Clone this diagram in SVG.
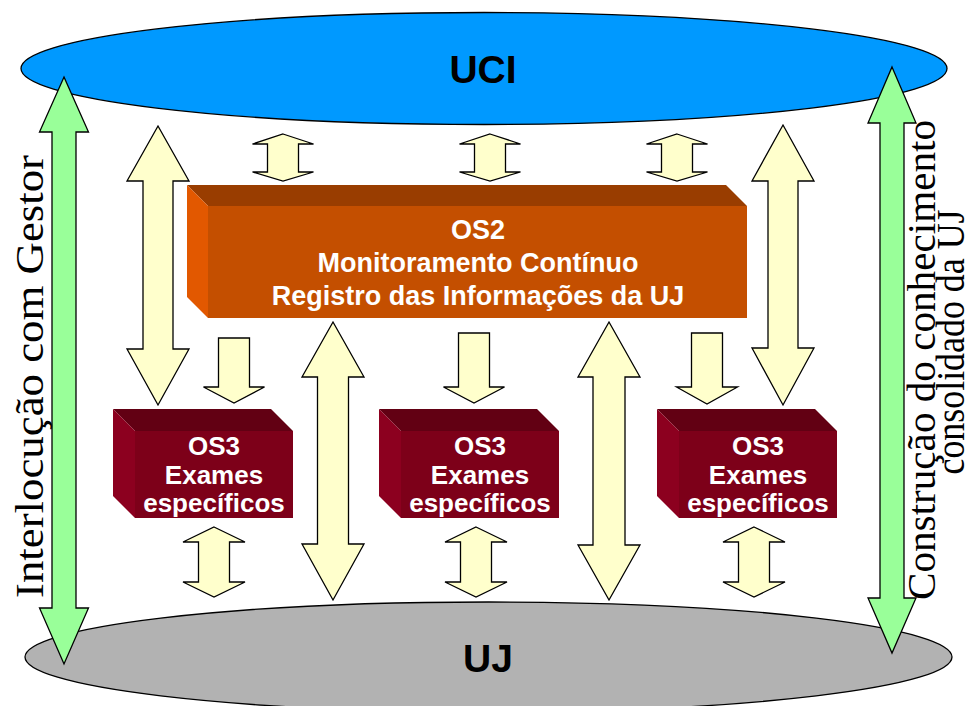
<svg xmlns="http://www.w3.org/2000/svg" width="980" height="706" viewBox="0 0 980 706">
<style>
.cream{fill:#FFFFCC;stroke:#000;stroke-width:1.3;stroke-linejoin:miter}
.green{fill:#99FF99;stroke:#000;stroke-width:1.3}
.lbl{font-family:"Liberation Sans",Arial,sans-serif;font-weight:bold;fill:#fff;text-anchor:middle}
.big{font-family:"Liberation Sans",Arial,sans-serif;font-weight:bold;fill:#000;text-anchor:middle;font-size:39px}
.side{font-family:"Liberation Serif","Times New Roman",serif;fill:#000;text-anchor:middle}
</style>
<rect width="980" height="706" fill="#fff"/>
<g id="uj">
<ellipse cx="488.5" cy="657" rx="463.5" ry="55" fill="#B2B2B2" stroke="#000" stroke-width="1.3"/>
<text class="big" x="488" y="672">UJ</text>
</g>
<g id="uci">
<ellipse cx="484" cy="68.5" rx="463" ry="56" fill="#0099FF" stroke="#000" stroke-width="1.3"/>
<text class="big" x="483" y="83">UCI</text>
</g>
<g id="connectors">
<polygon class="green" points="64,77 88.5,132 76,132 76,608 88.5,608 64,664 39.5,608 52,608 52,132 39.5,132"/>
<polygon class="green" points="892,67 916,123 904,123 904,598 916,598 892,653 868,598 880,598 880,123 868,123"/>
<polygon class="cream" points="158,126 189,181 173,181 173,349 189,349 158,405 127,349 143,349 143,181 127,181"/>
<polygon class="cream" points="783,125 814,181 798,181 798,348 814,348 783,405 752,348 768,348 768,181 752,181"/>
<polygon class="cream" points="283,134 313.5,144 298.5,144 298.5,172 313.5,172 283,181 252.5,172 267.5,172 267.5,144 252.5,144"/>
<polygon class="cream" points="490,134 520.5,144 505.5,144 505.5,172 520.5,172 490,181 459.5,172 474.5,172 474.5,144 459.5,144"/>
<polygon class="cream" points="677,134 707.5,144 692.5,144 692.5,172 707.5,172 677,181 646.5,172 661.5,172 661.5,144 646.5,144"/>
<polygon class="cream" points="214,527 245,542 229.5,542 229.5,582 245,582 214,597 183,582 198.5,582 198.5,542 183,542"/>
<polygon class="cream" points="476,527 507,542 491.5,542 491.5,582 507,582 476,597 445,582 460.5,582 460.5,542 445,542"/>
<polygon class="cream" points="754,527 785,542 769.5,542 769.5,582 785,582 754,597 723,582 738.5,582 738.5,542 723,542"/>
<polygon class="cream" points="333,322 364,377 348.5,377 348.5,544 364,544 333,600 302,544 317.5,544 317.5,377 302,377"/>
<polygon class="cream" points="609,322 640,377 625,377 625,545 640,545 609,600 578,545 593,545 593,377 578,377"/>
<polygon class="cream" points="218.5,338 249.5,338 249.5,387 264.5,387 234,403 203.5,387 218.5,387"/>
<polygon class="cream" points="458.5,333 489.5,333 489.5,387 504.5,387 474,403 443.5,387 458.5,387"/>
<polygon class="cream" points="691.5,333 722.5,333 722.5,387 737.5,387 707,404 676.5,387 691.5,387"/>
</g>
<g id="os2">
<polygon points="187,185 726,185 747,206 208,206" fill="#993D00"/>
<polygon points="187,185 208,206 208,318 187,297" fill="#E25800"/>
<rect x="208" y="206" width="539" height="112" fill="#C44F00"/>
<text class="lbl" font-size="27" x="478" y="239">OS2</text>
<text class="lbl" font-size="27" x="478" y="272">Monitoramento Contínuo</text>
<text class="lbl" font-size="27" x="478" y="305">Registro das Informações da UJ</text>
</g>
<g id="os3a">
<polygon points="113,409 271,409 293,431 135,431" fill="#620013"/>
<polygon points="113,409 135,431 135,518 113,496" fill="#8C001F"/>
<rect x="135" y="431" width="158" height="87" fill="#7D0019"/>
<text class="lbl" font-size="26" x="214" y="455">OS3</text>
<text class="lbl" font-size="26" x="214" y="484">Exames</text>
<text class="lbl" font-size="26" x="214" y="512">específicos</text>
</g>
<g id="os3b">
<polygon points="379,409 537,409 559,431 401,431" fill="#620013"/>
<polygon points="379,409 401,431 401,518 379,496" fill="#8C001F"/>
<rect x="401" y="431" width="158" height="87" fill="#7D0019"/>
<text class="lbl" font-size="26" x="480" y="455">OS3</text>
<text class="lbl" font-size="26" x="480" y="484">Exames</text>
<text class="lbl" font-size="26" x="480" y="512">específicos</text>
</g>
<g id="os3c">
<polygon points="657,409 815,409 837,431 679,431" fill="#620013"/>
<polygon points="657,409 679,431 679,518 657,496" fill="#8C001F"/>
<rect x="679" y="431" width="158" height="87" fill="#7D0019"/>
<text class="lbl" font-size="26" x="758" y="455">OS3</text>
<text class="lbl" font-size="26" x="758" y="484">Exames</text>
<text class="lbl" font-size="26" x="758" y="512">específicos</text>
</g>
<g id="label-left">
<text class="side" font-size="39" transform="translate(43,376.5) rotate(-90)" textLength="443" lengthAdjust="spacingAndGlyphs">Interlocução com Gestor</text>
</g>
<g id="label-right">
<text class="side" font-size="39" transform="translate(935,360) rotate(-90)" textLength="480" lengthAdjust="spacingAndGlyphs">Construção do conhecimento</text>
<text class="side" font-size="39" transform="translate(964,342) rotate(-90)" textLength="265" lengthAdjust="spacingAndGlyphs">consolidado da UJ</text>
</g>
</svg>
